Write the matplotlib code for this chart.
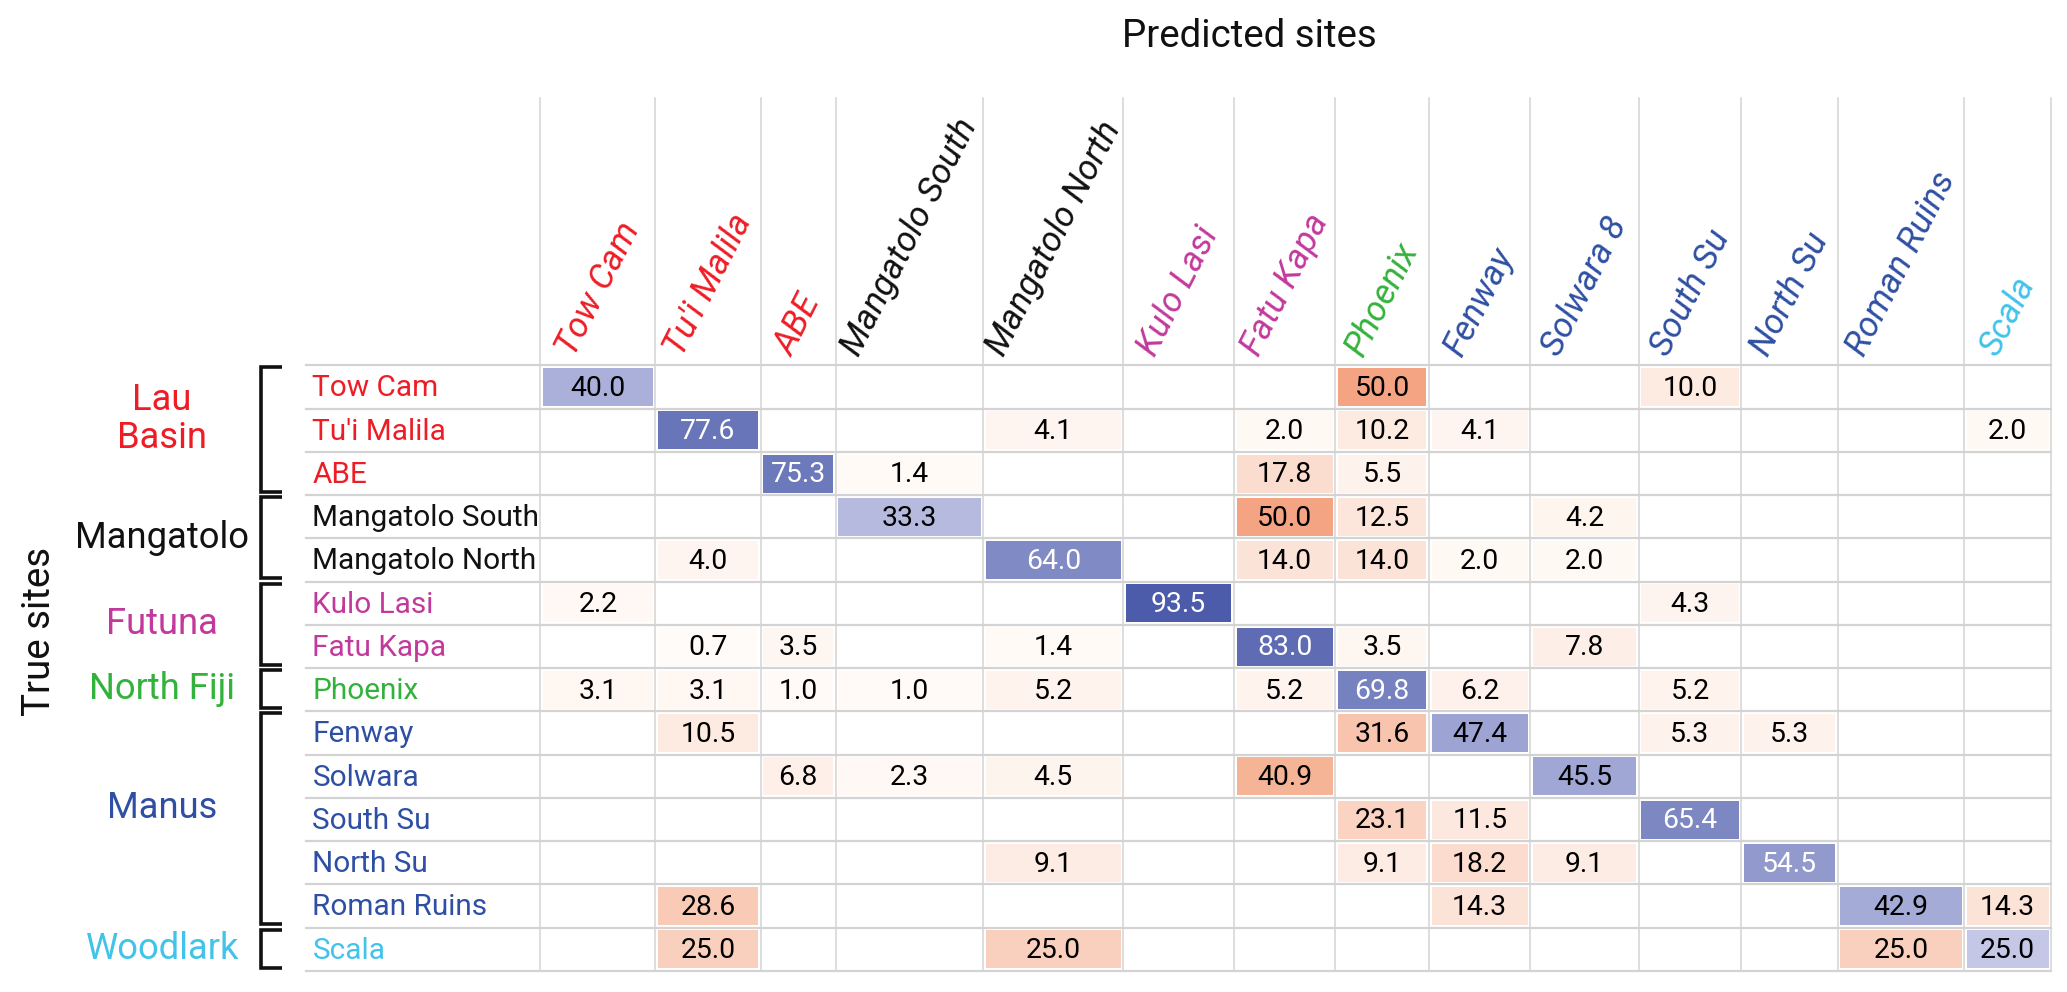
import numpy as np
import matplotlib
matplotlib.use("Agg")
import matplotlib.pyplot as plt
from matplotlib.colors import LinearSegmentedColormap
from matplotlib.patches import Rectangle

plt.rcParams['font.family'] = ['Roboto', 'DejaVu Sans']

n = np.nan

pred_sites = ["Tow Cam", "Tu'i Malila", "ABE", "Mangatolo South", "Mangatolo North",
              "Kulo Lasi", "Fatu Kapa", "Phoenix", "Fenway", "Solwara 8",
              "South Su", "North Su", "Roman Ruins", "Scala"]
true_sites = ["Tow Cam", "Tu'i Malila", "ABE", "Mangatolo South", "Mangatolo North",
              "Kulo Lasi", "Fatu Kapa", "Phoenix", "Fenway", "Solwara",
              "South Su", "North Su", "Roman Ruins", "Scala"]

groups = ["Lau\nBasin", "Mangatolo", "Futuna", "North Fiji", "Manus", "Woodlark"]
group_sizes = [3, 2, 2, 1, 5, 1]

# percent of true site samples assigned to each predicted site
values = np.array([
    [40.0, n, n, n, n, n, n, 50.0, n, n, 10.0, n, n, n],
    [n, 77.6, n, n, 4.1, n, 2.0, 10.2, 4.1, n, n, n, n, 2.0],
    [n, n, 75.3, 1.4, n, n, 17.8, 5.5, n, n, n, n, n, n],
    [n, n, n, 33.3, n, n, 50.0, 12.5, n, 4.2, n, n, n, n],
    [n, 4.0, n, n, 64.0, n, 14.0, 14.0, 2.0, 2.0, n, n, n, n],
    [2.2, n, n, n, n, 93.5, n, n, n, n, 4.3, n, n, n],
    [n, 0.7, 3.5, n, 1.4, n, 83.0, 3.5, n, 7.8, n, n, n, n],
    [3.1, 3.1, 1.0, 1.0, 5.2, n, 5.2, 69.8, 6.2, n, 5.2, n, n, n],
    [n, 10.5, n, n, n, n, n, 31.6, 47.4, n, 5.3, 5.3, n, n],
    [n, n, 6.8, 2.3, 4.5, n, 40.9, n, n, 45.5, n, n, n, n],
    [n, n, n, n, n, n, n, 23.1, 11.5, n, 65.4, n, n, n],
    [n, n, n, n, 9.1, n, n, 9.1, 18.2, 9.1, n, 54.5, n, n],
    [n, 28.6, n, n, n, n, n, n, 14.3, n, n, n, 42.9, 14.3],
    [n, 25.0, n, n, 25.0, n, n, n, n, n, n, n, 25.0, 25.0],
])

RED, BLK, MAG, GRN, BLU, CYN = "#ee1c25", "#111111", "#c2399b", "#33b23b", "#2e4fa3", "#41c3ea"
group_colors = [RED, BLK, MAG, GRN, BLU, CYN]
site_colors = [RED, RED, RED, BLK, BLK, MAG, MAG, GRN, BLU, BLU, BLU, BLU, BLU, CYN]

blue_cmap = LinearSegmentedColormap.from_list("diag", ["#f0eefb", "#4152a6"])
orange_cmap = LinearSegmentedColormap.from_list("off", ["#fffcf9", "#f4a482"])

# layout (in a 1568 x 752 frame)
W, H = 1568, 752
col_edges = [410, 497, 577, 634, 746, 852, 936, 1013, 1084, 1161, 1243, 1321, 1394, 1490, 1556]
label_left = 232
head_top, grid_top, grid_bot = 74, 277, 736
row_h = (grid_bot - grid_top) / len(true_sites)

fig = plt.figure(figsize=(20.67, 9.92), dpi=100)
ax = fig.add_axes([0, 0, 1, 1])
ax.set_xlim(0, W)
ax.set_ylim(H, 0)
ax.axis("off")
renderer = fig.canvas.get_renderer()
px = 2067 / W


def fit_size(txt, target, rotation=0, use_height=False, **kw):
    t = ax.text(0, 0, txt, fontsize=20, rotation=rotation, **kw)
    bb = t.get_window_extent(renderer)
    t.remove()
    size = bb.height if use_height else bb.width
    return 20 * target * px / size


fs_label = fit_size("Mangatolo South", 172)
fs_cell = fit_size("40.0", 42)
fs_group = fit_size("Mangatolo", 132)
fs_title = fit_size("Predicted sites", 193)
fs_head = fit_size("Mangatolo South", 188, rotation=63, use_height=True, style="italic")

# grid lines
for i in range(len(true_sites) + 1):
    y = grid_top + i * row_h
    ax.plot([label_left, col_edges[-1]], [y, y], color="#d3d3d3", lw=1.6, zorder=1)
for x in col_edges:
    ax.plot([x, x], [head_top, grid_bot], color="#d3d3d3", lw=1.1, zorder=1)

# cells
for r in range(len(true_sites)):
    y0 = grid_top + r * row_h
    for c in range(len(pred_sites)):
        v = values[r, c]
        if np.isnan(v):
            continue
        x0, x1 = col_edges[c], col_edges[c + 1]
        if r == c:
            fc = blue_cmap(v / 100)
            tc = "white" if v >= 50 else "black"
        else:
            fc = orange_cmap(min(v / 50, 1))
            tc = "black"
        ax.add_patch(Rectangle((x0 + 2, y0 + 2), x1 - x0 - 4, row_h - 4,
                               facecolor=fc, edgecolor="none", zorder=2))
        ax.text((x0 + x1) / 2, y0 + row_h / 2 + 1, f"{v:.1f}", color=tc,
                fontsize=fs_cell, ha="center", va="center", zorder=3)

# row labels
for r, name in enumerate(true_sites):
    ax.text(label_left + 5, grid_top + (r + 0.5) * row_h + 1, name,
            color=site_colors[r], fontsize=fs_label, ha="left", va="center")

# column labels
for c, name in enumerate(pred_sites):
    xc = (col_edges[c] + col_edges[c + 1]) / 2
    ax.text(xc, grid_top - 3, name, color=site_colors[c], fontsize=fs_head,
            rotation=63, ha="center", va="bottom", style="italic")

# group brackets and labels
start = 0
for g, size in enumerate(group_sizes):
    ya = grid_top + start * row_h + 1.5
    yb = grid_top + (start + size) * row_h - 2.5
    ax.plot([214, 198, 198, 214], [ya, ya, yb, yb], color="#111111", lw=2.6,
            solid_joinstyle="miter", solid_capstyle="butt", zorder=3)
    ax.text(123, (ya + yb) / 2 - (8 if g in (0, 4) else 0), groups[g],
            color=group_colors[g], fontsize=fs_group, ha="center", va="center",
            linespacing=1.05)
    start += size

ax.text(948, 28, "Predicted sites", fontsize=fs_title, ha="center", va="center", color="#111111")
ax.text(30, 479, "True sites", fontsize=fs_title, rotation=90, ha="center", va="center", color="#111111")

fig.savefig("out.png", dpi=100)
